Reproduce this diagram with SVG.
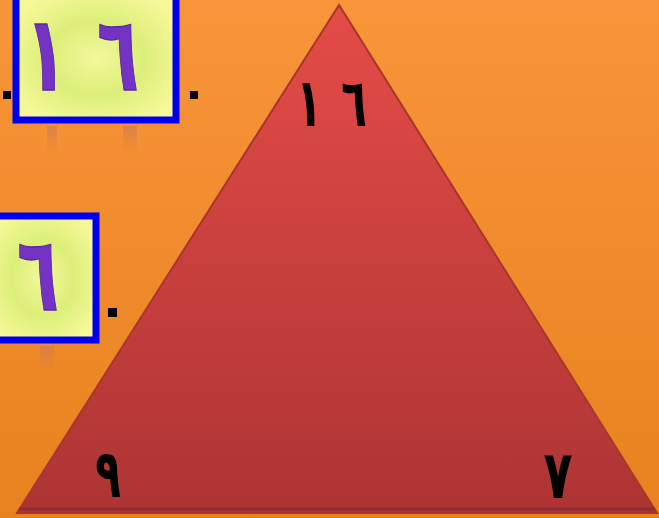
<svg xmlns="http://www.w3.org/2000/svg" width="659" height="518" viewBox="0 0 659 518">
<defs>
<linearGradient id="bg" x1="0" y1="0" x2="0" y2="1">
<stop offset="0" stop-color="#f8953a"/><stop offset="1" stop-color="#e8821f"/>
</linearGradient>
<linearGradient id="tri" x1="0" y1="0" x2="0" y2="1">
<stop offset="0" stop-color="#e44c48"/><stop offset="1" stop-color="#ad3434"/>
</linearGradient>
<radialGradient id="card" cx="0.5" cy="0.5" r="0.6">
<stop offset="0" stop-color="#f4f79a"/><stop offset="0.5" stop-color="#dcef7a"/><stop offset="1" stop-color="#f8f89a"/>
</radialGradient>
<linearGradient id="refl" x1="0" y1="0" x2="0" y2="1">
<stop offset="0" stop-color="#c97a5a" stop-opacity="0.7"/><stop offset="1" stop-color="#e8821f" stop-opacity="0"/>
</linearGradient>
<style>
.box{fill:url(#card);stroke:#0000f0;stroke-width:7}
.pd{font-family:"DejaVu Sans",sans-serif;font-size:80px;font-weight:bold;fill:#7433c4;stroke:#5a2aa0;stroke-width:1;text-anchor:middle}
.bd{font-family:"DejaVu Sans",sans-serif;font-size:56px;font-weight:bold;fill:#000;text-anchor:middle}
.sq{fill:#000}
</style>
</defs>
<rect width="659" height="518" fill="url(#bg)"/>
<g id="triangle">
<polygon points="339,5 17,513 657,513" fill="url(#tri)" stroke="#a8362c" stroke-width="2"/>
<line x1="19" y1="509" x2="655" y2="509" stroke="#8e2c34" stroke-width="3"/>
<text class="bd" transform="translate(309,126) scale(0.75,1.2)">١</text>
<text class="bd" transform="translate(354,126) scale(0.75,1.2)">٦</text>
<text class="bd" transform="translate(108,497) scale(0.75,1.2)">٩</text>
<text class="bd" transform="translate(558,498) scale(0.85,1.2)">٧</text>
</g>
<g id="card1">
<rect class="box" x="16" y="-4" width="160" height="124"/>
<text class="pd" transform="translate(46,90) scale(0.85,1.3)">١</text>
<text class="pd" transform="translate(118,90) scale(0.85,1.3)">٦</text>
<rect x="47" y="126" width="10" height="30" fill="url(#refl)"/>
<rect x="123" y="126" width="14" height="30" fill="url(#refl)"/>
</g>
<g id="card2">
<rect class="box" x="-10" y="216" width="106" height="124"/>
<text class="pd" transform="translate(38,310) scale(0.85,1.3)">٦</text>
<rect x="40" y="346" width="14" height="30" fill="url(#refl)"/>
</g>
<g id="dots">
<rect class="sq" x="3" y="91" width="8" height="8"/>
<rect class="sq" x="190" y="91" width="8" height="8"/>
<rect class="sq" x="108" y="308" width="9" height="9"/>
</g>
</svg>
